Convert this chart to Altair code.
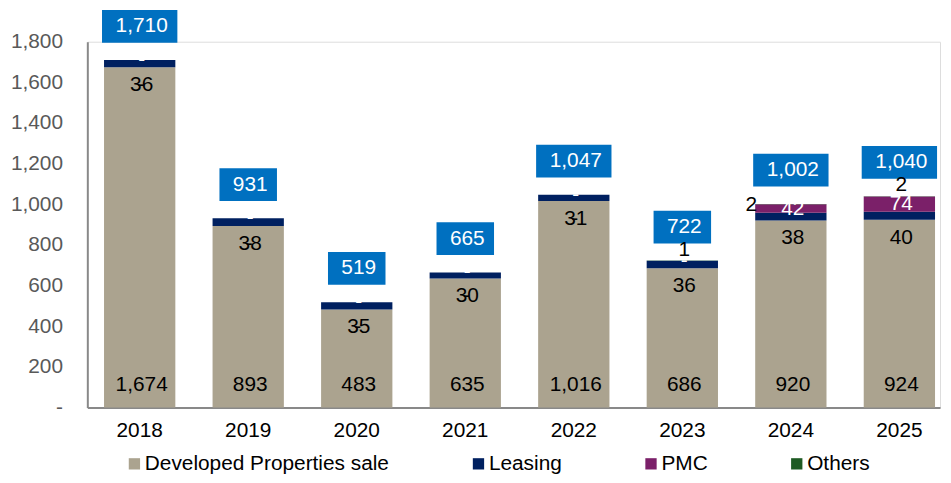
import altair as alt
import pandas as pd

years = ["2018", "2019", "2020", "2021", "2022", "2023", "2024", "2025"]
dps = [1674, 893, 483, 635, 1016, 686, 920, 924]
leasing = [36, 38, 35, 30, 31, 36, 38, 40]
pmc = [0, 0, 0, 0, 0, 0, 42, 74]
others = [0, 0, 0, 0, 0, 1, 2, 2]
totals = [1710, 931, 519, 665, 1047, 722, 1002, 1040]
categories = ["Developed Properties sale", "Leasing", "PMC", "Others"]
colors = ["#ABA38F", "#002060", "#7B2069", "#1E5B24"]
y_ticks = [0, 200, 400, 600, 800, 1000, 1200, 1400, 1600, 1800]

FONT = "Liberation Sans"
FS = 21

wide = pd.DataFrame({
    "year": years, "dps": dps, "leasing": leasing, "pmc": pmc,
    "others": others, "total": totals,
})

series = [dps, leasing, pmc, others]
rows = []
for i, y in enumerate(years):
    for k, cat in enumerate(categories):
        rows.append({"year": y, "category": cat, "value": series[k][i], "order": k})
long = pd.DataFrame(rows)

x_enc = alt.X(
    "year:N",
    sort=years,
    scale=alt.Scale(paddingInner=0.343, paddingOuter=0.1, align=0.77, round=False),
    axis=alt.Axis(
        title=None, labelAngle=0, labelFontSize=FS, labelColor="#000000",
        labelFont=FONT, ticks=False, tickSize=0, labelPadding=12,
        domainColor="#898989", domainWidth=2, grid=False,
    ),
)
y_scale = alt.Scale(domain=[0, 1800], nice=False, zero=True)

bars = alt.Chart(long).mark_bar().encode(
    x=x_enc,
    y=alt.Y(
        "sum(value):Q",
        scale=y_scale,
        stack="zero",
        axis=alt.Axis(
            title=None, values=y_ticks, grid=False, ticks=False, tickSize=0,
            labelFontSize=FS, labelColor="#595959", labelFont=FONT,
            labelPadding=25, domainColor="#898989", domainWidth=2,
            labelExpr="datum.value == 0 ? '-' : format(datum.value, ',')",
        ),
    ),
    color=alt.Color(
        "category:N",
        scale=alt.Scale(domain=categories, range=colors),
        legend=alt.Legend(
            title=None, orient="none", legendX=37, legendY=415,
            direction="horizontal", symbolType="square", symbolSize=130,
            symbolStrokeWidth=0, labelFontSize=FS, labelFont=FONT,
            labelColor="#000000", columnPadding=79, labelOffset=0, padding=0,
            labelLimit=0,
        ),
    ),
    order=alt.Order("order:Q", sort="ascending"),
)

base = alt.Chart(wide).encode(x=alt.X("year:N", sort=years))

box_big = base.transform_filter("datum.total >= 1000").mark_bar(
    width=76, color="#0070C0", yOffset=-50.5, y2Offset=-17.5
).encode(y=alt.Y("total:Q", scale=y_scale), y2="total:Q")

box_small = base.transform_filter("datum.total < 1000").mark_bar(
    width=58, color="#0070C0", yOffset=-50.5, y2Offset=-17.5
).encode(y=alt.Y("total:Q", scale=y_scale), y2="total:Q")

total_text = base.mark_text(
    color="#FFFFFF", fontSize=FS, font=FONT, baseline="middle", yOffset=-34, dx=2
).encode(y=alt.Y("total:Q", scale=y_scale), text=alt.Text("total:Q", format=","))

dps_text = base.mark_text(
    color="#000000", fontSize=FS, font=FONT, baseline="middle", yOffset=-23, dx=2
).encode(y=alt.datum(0, scale=y_scale), text=alt.Text("dps:Q", format=","))

leasing_text = base.mark_text(
    color="#000000", fontSize=FS, font=FONT, baseline="middle", yOffset=18, dx=2
).encode(y=alt.Y("dps:Q", scale=y_scale), text=alt.Text("leasing:Q", format=","))

others_dash = base.transform_filter("datum.others == 0").mark_text(
    color="#000000", fontSize=FS, font=FONT, baseline="middle", yOffset=18, dx=1
).encode(y=alt.Y("dps:Q", scale=y_scale), text=alt.value("-"))

pmc_text = base.transform_calculate(
    pmc_mid="datum.dps + datum.leasing + datum.pmc / 2",
    pmc_label="datum.pmc > 0 ? format(datum.pmc, ',') : '-'",
).mark_text(
    color="#FFFFFF", fontSize=FS, font=FONT, baseline="middle", dx=2
).encode(y=alt.Y("pmc_mid:Q", scale=y_scale), text="pmc_label:N")

others_top = base.transform_calculate(
    stack_top="datum.dps + datum.leasing + datum.pmc + datum.others"
)
others_text = others_top.transform_filter(
    "datum.others > 0 && datum.year != '2024'"
).mark_text(
    color="#000000", fontSize=FS, font=FONT, baseline="middle", yOffset=-11, dx=2
).encode(y=alt.Y("stack_top:Q", scale=y_scale), text=alt.Text("others:Q", format=","))

others_text_side = others_top.transform_filter(
    "datum.others > 0 && datum.year == '2024'"
).mark_text(
    color="#000000", fontSize=FS, font=FONT, baseline="middle", dx=-40, yOffset=1
).encode(y=alt.Y("stack_top:Q", scale=y_scale), text=alt.Text("others:Q", format=","))

chart = alt.layer(
    bars, box_big, box_small, total_text, dps_text, leasing_text, others_dash,
    pmc_text, others_text, others_text_side,
).properties(
    width=860, height=369,
    autosize=alt.AutoSizeParams(type="none"),
    padding={"left": 80, "top": 32, "right": 3, "bottom": 66},
).configure_view(stroke=None).configure(font=FONT)

chart.save("out.html", embed_options={"renderer": "svg", "actions": False})
